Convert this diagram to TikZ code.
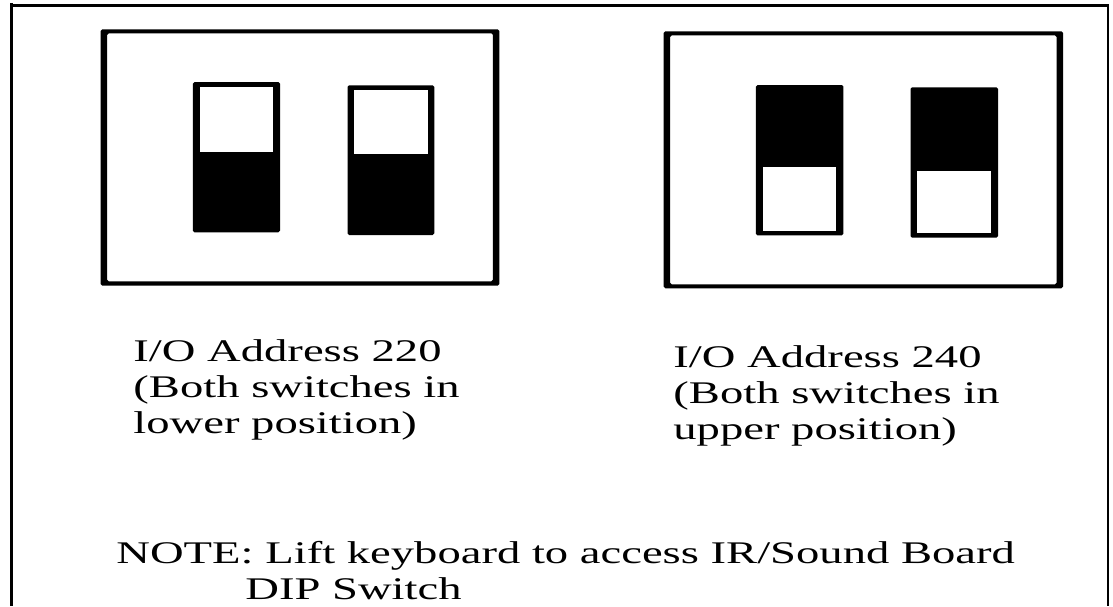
\documentclass[tikz,border=0pt]{standalone}
\usepackage{fontspec}
\setmainfont{Liberation Serif}[FakeStretch=1.48]
\usetikzlibrary{positioning}

\tikzset{
  caption/.style={font=\fontsize{15.75pt}{18pt}\selectfont, align=left, inner sep=0pt, anchor=base west},
  casing/.style={fill=black, even odd rule, rounded corners=0.8pt},
  lever/.style={fill=black, rounded corners=0.8pt},
}

\begin{document}
\begin{tikzpicture}[x=0.5pt,y=-0.5pt]
\useasboundingbox (0,0) rectangle (1113,606);
\draw[line width=1.5pt] (11.5,3) -- (11.5,606);
\draw[line width=1.5pt] (10,5.3) -- (1108,5.3);
\draw[line width=0.6pt] (1108,4) -- (1108,606);

\fill[casing] (100.7,29.3) rectangle (499.3,285.7) (107.1,33.3) rectangle (492.9,281.3);
\fill[lever] (192.9,82) rectangle (280,232.3);
\fill[white] (200,87.3) rectangle (272.9,151.7);
\fill[lever] (347.5,85.3) rectangle (434.3,235);
\fill[white] (354.3,90) rectangle (427.5,154);

\fill[casing] (663.7,31.3) rectangle (1063,288.3) (670.1,35.3) rectangle (1056.6,284.3);
\fill[lever] (755.9,85) rectangle (843.4,235.3);
\fill[white] (763,166.7) rectangle (836.2,230.7);
\fill[lever] (910.5,87.3) rectangle (998,237.7);
\fill[white] (917.3,171) rectangle (990.9,233.3);

% base anchor sits on the last line
\node[caption] (addr220) at (133,433) {I/O Address 220\\(Both switches in\\lower position)};
\node[caption] (addr240) at (673,439) {I/O Address 240\\(Both switches in\\upper position)};
\node[caption] (note) at (116,563) {NOTE: Lift keyboard to access IR/Sound Board};
\node[caption] (dip) at (245,599) {DIP Switch};
\end{tikzpicture}
\end{document}
